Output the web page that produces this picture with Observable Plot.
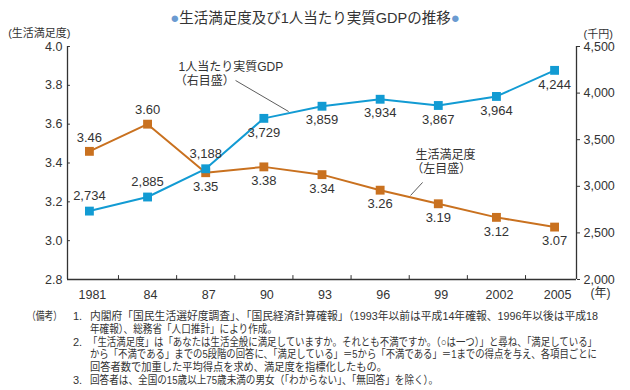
<!DOCTYPE html>
<html><head><meta charset="utf-8">
<script src="https://cdn.jsdelivr.net/npm/d3@7"></script>
<script src="https://cdn.jsdelivr.net/npm/@observablehq/plot@0.6"></script>
<style>
body{margin:0;background:#fff;}
#wrap{position:relative;width:630px;height:390px;overflow:hidden;color:#333;font-family:"Liberation Sans","Noto Sans CJK JP",sans-serif;}
#chart{position:absolute;top:0;left:0;}
#title{position:absolute;top:9px;left:0;width:630px;text-align:center;font-size:14.5px;line-height:18px;font-family:"Liberation Sans","Noto Sans CJK JP",sans-serif;color:#333;}
#title .dot{color:#6b9bd1;font-size:15px;}
.ln{position:absolute;font-size:11px;line-height:13px;white-space:nowrap;transform-origin:0 50%;font-family:"Liberation Sans","Noto Sans CJK JP",sans-serif;color:#333;}
</style></head>
<body><div id="wrap"><div id="chart"></div><div id="title"><span class="dot">●</span>生活満足度及び1人当たり実質GDPの推移<span class="dot">●</span></div><div id="notes"></div></div>
<script>
// ---- data ----
const years = [1981, 1984, 1987, 1990, 1993, 1996, 1999, 2002, 2005];
const yearLabels = ["1981", "84", "87", "90", "93", "96", "99", "2002", "2005"];
const satisfaction = [3.46, 3.60, 3.35, 3.38, 3.34, 3.26, 3.19, 3.12, 3.07];
const gdp = [2734, 2885, 3188, 3729, 3859, 3934, 3867, 3964, 4244];
const leftTicks = [2.8, 3.0, 3.2, 3.4, 3.6, 3.8, 4.0];
const rightTicks = [2000, 2500, 3000, 3500, 4000, 4500];
const noteLines = [
  "内閣府「国民生活選好度調査」、「国民経済計算確報」（1993年以前は平成14年確報、1996年以後は平成18",
  "年確報）、総務省「人口推計」により作成。",
  "「生活満足度」は「あなたは生活全般に満足していますか。それとも不満ですか。（○は一つ）」と尋ね、「満足している」",
  "から「不満である」までの5段階の回答に、「満足している」＝5から「不満である」＝1までの得点を与え、各項目ごとに",
  "回答者数で加重した平均得点を求め、満足度を指標化したもの。",
  "回答者は、全国の15歳以上75歳未満の男女（「わからない」、「無回答」を除く）。"
];

// ---- layout / style ----
const ORANGE = "#c9711f", BLUE = "#129bd3", INK = "#333";
const X0 = 1979.87, X1 = 2006.13, Y0 = 2.8, Y1 = 4.0, G0 = 2000, G1 = 4500;
const toL = g => Y0 + (g - G0) / (G1 - G0) * (Y1 - Y0);
const fromL = y => G0 + (y - Y0) / (Y1 - Y0) * (G1 - G0);
const mids = years.slice(0, -1).map((y, i) => (y + years[i + 1]) / 2);
const rows = years.map((year, i) => ({year, sat: satisfaction[i], g: gdp[i], gL: toL(gdp[i]), i}));
const fmt = d3.format(",");
const FONT = "'Liberation Sans','Noto Sans CJK JP',sans-serif";

const chart = Plot.plot({
  width: 630, height: 302,
  marginTop: 46, marginBottom: 23, marginLeft: 67, marginRight: 54,
  x: {type: "linear", domain: [X0, X1], axis: null},
  y: {domain: [Y0, Y1], axis: null},
  style: {fontFamily: FONT, fontSize: "12.5px", color: INK, background: "transparent", overflow: "visible"},
  marks: [
    Plot.ruleX([X0, X1], {stroke: INK, strokeWidth: 1.3}),
    Plot.ruleY([Y0], {stroke: INK, strokeWidth: 1.3}),
    Plot.axisY({anchor: "left", ticks: leftTicks, tickFormat: d => d.toFixed(1), tickSize: 0, tickPadding: 5, label: null, fontSize: 12.5}),
    Plot.ruleY(leftTicks, {x1: X0, x2: X0 + 0.15, stroke: INK}),
    Plot.axisY({anchor: "right", ticks: rightTicks.map(toL), tickFormat: d => fmt(Math.round(fromL(d))), tickSize: 3, tickPadding: 4, label: null, fontSize: 12.5}),
    Plot.ruleX(mids, {y1: Y0, y2: Y0 + 0.02, stroke: INK}),
    Plot.axisX({ticks: years, tickFormat: d => yearLabels[years.indexOf(d)], tickSize: 0, tickPadding: 11, label: null, dx: 3, fontSize: 12.5}),
    Plot.text(["(年)"], {frameAnchor: "bottom-right", textAnchor: "start", dx: 14, dy: 17, fontSize: 12}),
    Plot.text(["(生活満足度)"], {frameAnchor: "top-left", textAnchor: "end", dx: 3, dy: -17, fontSize: 11}),
    Plot.text(["(千円)"], {frameAnchor: "top-right", textAnchor: "start", dx: 7, dy: -16, fontSize: 11}),
    // series
    Plot.line(rows, {x: "year", y: "sat", stroke: ORANGE, strokeWidth: 2}),
    Plot.line(rows, {x: "year", y: "gL", stroke: BLUE, strokeWidth: 2}),
    Plot.dot(rows, {x: "year", y: "sat", symbol: "square", r: 5, fill: ORANGE}),
    Plot.dot(rows, {x: "year", y: "gL", symbol: "square", r: 5, fill: BLUE}),
    Plot.text(rows.filter(d => d.i < 2), {x: "year", y: "sat", text: d => d.sat.toFixed(2), dy: -14, fontSize: 13}),
    Plot.text(rows.filter(d => d.i >= 2), {x: "year", y: "sat", text: d => d.sat.toFixed(2), dy: 14, fontSize: 13}),
    Plot.text(rows.filter(d => d.i < 3), {x: "year", y: "gL", text: d => fmt(d.g), dy: -15, fontSize: 13}),
    Plot.text(rows.filter(d => d.i >= 3), {x: "year", y: "gL", text: d => fmt(d.g), dy: 14, fontSize: 13}),
    // annotations
    Plot.text(["1人当たり実質GDP"], {x: 1985.6, y: 3.892, textAnchor: "start", fontSize: 12}),
    Plot.text(["（右目盛）"], {x: 1985.4, y: 3.820, textAnchor: "start", fontSize: 12}),
    Plot.link([0], {x1: 1988.54, y1: 3.825, x2: 1991.28, y2: 3.665, stroke: INK, strokeWidth: 0.8}),
    Plot.text(["生活満足度"], {x: 1997.83, y: 3.439, textAnchor: "start", fontSize: 12}),
    Plot.text(["（左目盛）"], {x: 1997.6, y: 3.367, textAnchor: "start", fontSize: 12}),
    Plot.link([0], {x1: 1998.19, y1: 3.300, x2: 1997.57, y2: 3.233, stroke: INK, strokeWidth: 0.8})
  ]
});
document.getElementById("chart").appendChild(chart);

// ---- notes ----
const notes = document.getElementById("notes");
const place = [
  {t: "（備考）", x: 27, y: 316, w: 35},
  {t: "1.", x: 73, y: 316},
  {t: noteLines[0], x: 90, y: 316, w: 508},
  {t: noteLines[1], x: 90, y: 329, w: 187},
  {t: "2.", x: 73, y: 342},
  {t: noteLines[2], x: 88, y: 342, w: 509},
  {t: noteLines[3], x: 90, y: 354.5, w: 507},
  {t: noteLines[4], x: 90, y: 367, w: 297},
  {t: "3.", x: 73, y: 380},
  {t: noteLines[5], x: 90, y: 380, w: 348}
];
for (const p of place) {
  const s = document.createElement("div");
  s.className = "ln";
  s.textContent = p.t;
  s.style.left = p.x + "px";
  s.style.top = (p.y - 6.5) + "px";
  notes.appendChild(s);
  if (p.w) {
    const w = s.getBoundingClientRect().width;
    s.style.transform = `scaleX(${p.w / w})`;
  }
}
</script>
</body></html>
